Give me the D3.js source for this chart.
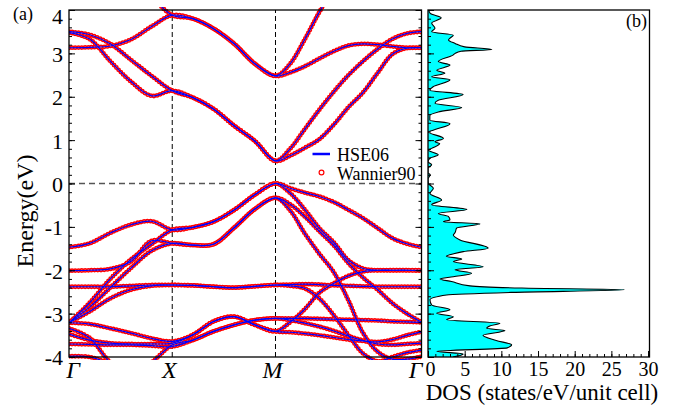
<!DOCTYPE html>
<html><head><meta charset="utf-8">
<script src="https://cdn.jsdelivr.net/npm/d3@7"></script>
<style>
body{margin:0;background:#fff}
svg{display:block}
text{font-family:"Liberation Serif","Times New Roman",serif;fill:#000}
</style>
</head><body>
<svg id="c" width="682" height="407"></svg>
<script>
// ---- k-path sampling (Γ-X, X-M, M-Γ) ----
const kGrid = [0, 0.2, 0.4, 0.6, 0.8, 1, 1.2, 1.4, 1.6, 1.8, 2,
  2.1414, 2.2828, 2.4243, 2.5657, 2.7071, 2.8485, 2.9899, 3.1314, 3.2728, 3.4142];
const kTickPos = [0, 1, 2, 3.4142];
const kTickLabels = ["Γ", "X", "M", "Γ"];
const kLabelShift = [4, -3, -3, -6];
const energyTicks = [-4, -3, -2, -1, 0, 1, 2, 3, 4];
const dosTicks = [0, 5, 10, 15, 20, 25, 30];

// ---- bands (eV) ----
const cb1 = [3.48, 3.33, 2.82, 2.35, 2.02, 2.14, 1.98, 1.72, 1.33, 0.98, 0.52, 0.80, 1.25, 1.70, 2.12, 2.50, 2.82, 3.10, 3.33, 3.46, 3.50];
const cb2 = [3.50, 3.43, 3.22, 2.85, 2.48, 2.14, 1.98, 1.72, 1.33, 0.98, 0.52, 0.64, 0.82, 1.02, 1.36, 1.76, 2.10, 2.55, 2.98, 3.12, 3.13];
const cb3 = [3.13, 3.14, 3.17, 3.32, 3.62, 3.88, 3.80, 3.57, 3.22, 2.76, 2.48, 2.56, 2.70, 2.88, 3.05, 3.18, 3.22, 3.20, 3.16, 3.13, 3.13];
const cb4 = [5.50, 5.30, 5.00, 4.70, 4.30, 3.88, 3.80, 3.57, 3.22, 2.76, 2.48, 2.76, 3.32, 3.95, 4.50, 5.00, 5.40, 5.70, 5.90, 6.00, 6.00];
const vb1 = [-1.47, -1.38, -1.14, -0.95, -0.87, -1.07, -1.01, -0.88, -0.61, -0.26, 0.00, -0.11, -0.21, -0.30, -0.43, -0.61, -0.80, -1.03, -1.26, -1.39, -1.47];
const vb2 = [-2.01, -2.00, -1.97, -1.80, -1.32, -1.38, -1.42, -1.40, -1.02, -0.59, -0.33, -0.48, -0.76, -1.10, -1.43, -1.84, -2.17, -2.45, -2.76, -3.00, -3.20];
const vb3 = [-3.21, -2.75, -2.20, -1.75, -1.40, -1.07, -1.01, -0.88, -0.61, -0.26, 0.00, -0.22, -0.60, -1.03, -1.36, -1.77, -1.96, -2.00, -2.00, -2.00, -2.01];
const vb4 = [-3.21, -2.85, -2.40, -1.95, -1.55, -1.38, -1.42, -1.40, -1.02, -0.59, -0.33, -0.62, -1.15, -1.62, -2.05, -2.70, -3.45, -3.88, -4.05, -4.05, -3.99];
const vb5 = [-3.21, -2.95, -2.65, -2.45, -2.36, -2.34, -2.35, -2.38, -2.40, -2.37, -2.34, -2.36, -2.42, -2.65, -3.04, -3.50, -3.92, -4.10, -4.00, -3.90, -3.84];
const vb6 = [-2.38, -2.38, -2.38, -2.36, -2.34, -2.34, -2.35, -2.38, -2.40, -2.37, -2.34, -2.33, -2.32, -2.33, -2.35, -2.36, -2.37, -2.38, -2.38, -2.38, -2.38];
const vb7 = [-3.21, -3.24, -3.34, -3.45, -3.57, -3.64, -3.49, -3.18, -3.07, -3.26, -3.41, -3.20, -2.90, -2.52, -2.30, -2.13, -2.03, -2.00, -2.00, -2.00, -2.00];
const vb8 = [-3.47, -3.61, -3.68, -3.70, -3.70, -3.68, -3.49, -3.18, -3.07, -3.26, -3.41, -3.43, -3.46, -3.50, -3.55, -3.60, -3.63, -3.65, -3.60, -3.50, -3.42];
const vb9 = [-3.70, -3.71, -3.72, -3.72, -3.74, -3.76, -3.61, -3.41, -3.26, -3.15, -3.11, -3.11, -3.11, -3.12, -3.13, -3.14, -3.15, -3.16, -3.18, -3.19, -3.20];
const vb10 = [-3.34, -3.56, -4.12, -4.35, -4.12, -3.72, -3.61, -3.41, -3.26, -3.15, -3.11, -3.15, -3.22, -3.30, -3.40, -3.52, -3.62, -3.70, -3.72, -3.70, -3.68];
const vb11 = [-3.985, -4.00, -4.15, -4.30, -4.40, -4.40, -4.40, -4.40, -4.40, -4.40, -4.40, -4.40, -4.40, -4.40, -4.40, -4.40, -4.40, -4.40, -4.40, -4.40, -4.40];

// ---- DOS (states/eV/unit cell) vs energy (eV) ----
const dosEnergy = [4.00, 3.92, 3.82, 3.70, 3.58, 3.50, 3.42, 3.35, 3.31, 3.23, 3.15, 3.09, 3.05, 3.00, 2.96, 2.81, 2.73, 2.61, 2.54, 2.46, 2.39, 2.23, 2.15, 2.05, 1.92, 1.85, 1.75, 1.65, 1.57, 1.46, 1.38, 1.23, 1.19, 1.04, 0.96, 0.92, 0.81, 0.77, 0.66, 0.58, 0.50, 0.43, 0.35, 0.25, 0.20, 0.10, 0.00,
  -0.11, -0.23, -0.38, -0.49, -0.60, -0.69, -0.76, -0.84, -0.88, -0.93, -1.03, -1.13, -1.19, -1.30, -1.49, -1.57, -1.62, -1.68, -1.74, -1.80, -1.92, -1.99, -2.07, -2.15, -2.20, -2.26, -2.36, -2.41, -2.45, -2.51, -2.57, -2.68, -2.80, -2.91, -2.99, -3.07, -3.14, -3.22, -3.28, -3.34, -3.39, -3.50, -3.62, -3.72, -3.79, -3.87, -3.93, -4.00];
const dosValue = [0.1, 0.3, 1.8, 0.5, 0.95, 0.5, 3.45, 3.0, 2.8, 3.7, 5.0, 8.7, 4.5, 3.7, 3.4, 1.4, 3.0, 1.2, 2.3, 0.5, 3.0, 0.7, 0.25, 4.8, 1.4, 0.95, 4.6, 1.4, 0.25, 0.25, 3.0, 0.7, 0.05, 2.1, 0.95, 1.6, 0.5, 0.05, 1.4, 0.25, 0.0, 0.5, 0.0, 0.0, 0.3, 0.0, 0.05,
  0.73, 0.27, 1.86, 0.5, 5.3, 1.41, 2.77, 3.0, 2.1, 7.1, 3.9, 3.7, 3.45, 4.36, 8.2, 4.8, 3.5, 2.5, 4.6, 3.45, 7.54, 3.68, 5.95, 3.45, 1.64, 3.2, 5.72, 12.8, 26.8, 11.5, 2.54, 0.27, 0.5, 3.0, 1.18, 3.45, 2.54, 9.8, 8.5, 8.0, 10.5, 7.5, 9.3, 11.4, 10.8, 1.2, 4.8, 3.4];

const bands = [cb1, cb2, cb3, cb4, vb1, vb2, vb3, vb4, vb5, vb6, vb7, vb8, vb9, vb10, vb11];

const svg = d3.select("#c");
const x = d3.scaleLinear().domain([0, 3.4142]).range([69, 421.5]);
const y = d3.scaleLinear().domain([-4, 4]).range([357, 10]);
const xd = d3.scaleLinear().domain([0, 30.2]).range([428, 649.5]);

const defs = svg.append("defs");
defs.append("clipPath").attr("id", "clipA").append("rect")
  .attr("x", x(0)).attr("y", y(4) - 3).attr("width", x(3.4142) - x(0)).attr("height", y(-4) - y(4) + 6);
defs.append("clipPath").attr("id", "clipB").append("rect")
  .attr("x", xd(0)).attr("y", y(4)).attr("width", xd(30.2) - xd(0)).attr("height", y(-4) - y(4));

// ---- panel (a) ----
const gA = svg.append("g");
gA.selectAll("line.vline").data(kTickPos.slice(1, 3)).join("line").attr("class", "vline")
  .attr("x1", d => x(d)).attr("x2", d => x(d)).attr("y1", y(-4)).attr("y2", y(4))
  .attr("stroke", "#000").attr("stroke-width", 1).attr("stroke-dasharray", "5,3");
gA.append("line").attr("x1", x(0)).attr("x2", x(3.4142)).attr("y1", y(0)).attr("y2", y(0))
  .attr("stroke", "#555").attr("stroke-width", 1.3).attr("stroke-dasharray", "6,4");

const bandLine = d3.line().x((d, i) => x(kGrid[i])).y(d => y(d)).curve(d3.curveCatmullRom.alpha(0.5));
const gB = svg.append("g").attr("clip-path", "url(#clipA)");
gB.selectAll("path.wan").data(bands).join("path").attr("class", "wan")
  .attr("d", bandLine).attr("fill", "none").attr("stroke", "#ff0000").attr("stroke-width", 4.8)
  .attr("stroke-linecap", "round").attr("stroke-dasharray", "0 3.2");
gB.selectAll("path.wanin").data(bands).join("path").attr("class", "wanin")
  .attr("d", bandLine).attr("fill", "none").attr("stroke", "#ff9a9a").attr("stroke-width", 1.8)
  .attr("stroke-linecap", "round").attr("stroke-dasharray", "0 3.2");
gB.selectAll("path.hse").data(bands).join("path").attr("class", "hse")
  .attr("d", bandLine).attr("fill", "none").attr("stroke", "#0000ff").attr("stroke-width", 1.2);

// axes of panel (a)
const minorE = y.ticks(40);
const axL = svg.append("g").attr("transform", `translate(${x(0)},0)`)
  .call(d3.axisLeft(y).tickValues(energyTicks).tickSize(-6).tickPadding(6).tickFormat(d => String(d)));
svg.append("g").attr("transform", `translate(${x(0)},0)`)
  .call(d3.axisLeft(y).tickValues(minorE).tickSize(-3).tickFormat(""));
svg.append("g").attr("transform", `translate(${x(3.4142)},0)`)
  .call(d3.axisRight(y).tickValues(energyTicks).tickSize(-6).tickFormat(""));
svg.append("g").attr("transform", `translate(${x(3.4142)},0)`)
  .call(d3.axisRight(y).tickValues(minorE).tickSize(-3).tickFormat(""));
axL.selectAll("text").attr("font-size", 22).attr("font-family", "Liberation Serif")
  .attr("dy", d => d === 4 ? "0.62em" : "0.36em");
svg.selectAll(".domain").remove();
svg.selectAll(".tick line").attr("stroke", "#000");

svg.append("rect").attr("x", x(0)).attr("y", y(4)).attr("width", x(3.4142) - x(0)).attr("height", y(-4) - y(4))
  .attr("fill", "none").attr("stroke", "#000").attr("stroke-width", 1.3);

svg.selectAll("text.klab").data(kTickPos).join("text").attr("class", "klab")
  .attr("x", (d, i) => x(d) + kLabelShift[i]).attr("y", 378).attr("text-anchor", "middle")
  .attr("font-size", 24).attr("font-style", "italic").text((d, i) => kTickLabels[i]);

svg.append("text").attr("transform", "translate(33,211) rotate(-90)").attr("text-anchor", "middle")
  .attr("font-size", 24).text("Energy(eV)");
svg.append("text").attr("x", 13).attr("y", 20).attr("font-size", 18).text("(a)");

// legend
svg.append("line").attr("x1", 312.5).attr("x2", 330).attr("y1", 154).attr("y2", 154)
  .attr("stroke", "#0000ff").attr("stroke-width", 2.5);
svg.append("text").attr("x", 337).attr("y", 160.5).attr("font-size", 18).text("HSE06");
svg.append("circle").attr("cx", 321.5).attr("cy", 172.5).attr("r", 2.4)
  .attr("fill", "none").attr("stroke", "#ff0000").attr("stroke-width", 1.2);
svg.append("text").attr("x", 337).attr("y", 179.5).attr("font-size", 18).text("Wannier90");

// ---- panel (b) DOS ----
const dosArea = d3.area().y((d, i) => y(dosEnergy[i])).x0(xd(0)).x1((d, i) => xd(dosValue[i])).curve(d3.curveMonotoneY);
const dosLine = d3.line().y((d, i) => y(dosEnergy[i])).x((d, i) => xd(dosValue[i])).curve(d3.curveMonotoneY);
const gD = svg.append("g").attr("clip-path", "url(#clipB)");
gD.append("path").datum(dosValue).attr("d", dosArea).attr("fill", "#00ffff");
gD.append("path").datum(dosValue).attr("d", dosLine).attr("fill", "none").attr("stroke", "#000").attr("stroke-width", 1.1);

svg.append("g").attr("transform", `translate(${xd(0)},0)`)
  .call(d3.axisLeft(y).tickValues(energyTicks).tickSize(-6).tickFormat(""));
svg.append("g").attr("transform", `translate(${xd(0)},0)`)
  .call(d3.axisLeft(y).tickValues(minorE).tickSize(-3).tickFormat(""));
const axB = svg.append("g").attr("transform", `translate(0,${y(-4)})`)
  .call(d3.axisBottom(xd).tickValues(dosTicks).tickSize(-6).tickPadding(5).tickFormat(d => String(d)));
svg.append("g").attr("transform", `translate(0,${y(-4)})`)
  .call(d3.axisBottom(xd).tickValues(d3.range(0, 31, 1)).tickSize(-3).tickFormat(""));
axB.selectAll("text").attr("font-size", 20).attr("font-family", "Liberation Serif")
  .attr("dx", d => d === 0 ? "2" : "0");
svg.selectAll(".domain").remove();
svg.selectAll(".tick line").attr("stroke", "#000");

svg.append("rect").attr("x", xd(0)).attr("y", y(4)).attr("width", xd(30.2) - xd(0)).attr("height", y(-4) - y(4))
  .attr("fill", "none").attr("stroke", "#000").attr("stroke-width", 1.3);
svg.append("text").attr("x", 647).attr("y", 27).attr("text-anchor", "end").attr("font-size", 18).text("(b)");
svg.append("text").attr("x", 542).attr("y", 400).attr("text-anchor", "middle").attr("font-size", 23)
  .text("DOS (states/eV/unit cell)");
</script>
</body></html>
